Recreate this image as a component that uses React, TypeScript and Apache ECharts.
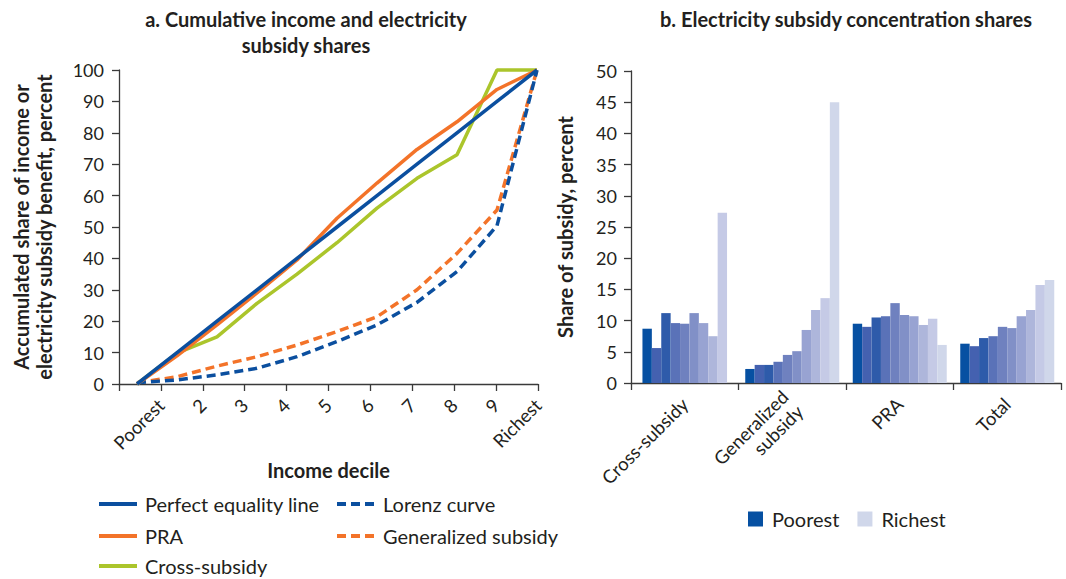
import React, { useEffect, useRef } from 'react';
import * as echarts from 'echarts';

// ---- Panel a: cumulative shares (11 points, 0 .. Richest) ----
const decileTicks = ['', 'Poorest', '2', '3', '4', '5', '6', '7', '8', '9', 'Richest'];
const pointCats = ['0', '1', '2', '3', '4', '5', '6', '7', '8', '9', '10'];
const perfectEquality = [0, 10, 20, 30, 40, 50, 60, 70, 80, 90, 100];
const praCum = [0, 9, 18.8, 29, 39.5, 52.8, 64, 74.7, 83.5, 93.8, 100];
const crossSubsidyCum = [0, 9.8, 15, 25.7, 35, 45, 56, 65.5, 73, 100, 100];
const lorenzCurve = [0.4, 1.3, 2.9, 5, 8.7, 13.5, 18.8, 26, 35.8, 50.4, 100];
const generalizedCum = [0.4, 2.3, 5.7, 8.7, 12.4, 16.7, 21.4, 30, 41.6, 55.4, 100];

// ---- Panel b: concentration shares ----
const barCategories = ['Cross-subsidy', 'Generalized\nsubsidy', 'PRA', 'Total'];
const decileNames = ['Poorest', 'Decile 2', 'Decile 3', 'Decile 4', 'Decile 5', 'Decile 6', 'Decile 7', 'Decile 8', 'Decile 9', 'Richest'];
// values per category: [Cross-subsidy, Generalized subsidy, PRA, Total]; null = no bar
const poorest = [8.7, 2.25, 9.5, 6.3];
const decile2 = [5.6, 2.9, 9.0, 5.9];
const decile3 = [11.2, 2.9, 10.5, 7.2];
const decile4 = [9.6, 3.4, 10.7, 7.5];
const decile5 = [9.5, 4.5, 12.8, 9.0];
const decile6 = [11.2, 5.1, 10.9, 8.8];
const decile7 = [9.6, 8.5, 10.7, 10.7];
const decile8 = [7.5, 11.7, 9.3, 11.7];
const decile9 = [27.3, 13.6, 10.3, 15.7];
const richest = [null, 45, 6.1, 16.5];
const decileValues = [poorest, decile2, decile3, decile4, decile5, decile6, decile7, decile8, decile9, richest];
const decileColors = ['#0650A2', '#4461B0', '#2E5BAA', '#5A72B8', '#6F81BF', '#8190C7', '#98A3D2', '#AEB6DB', '#C5CAE6', '#D0D7EA'];

const BLUE = '#0B4F9F';
const ORANGE = '#F37329';
const GREEN = '#ABC52B';
const TXT = '#231F20';
const AXIS = '#3A3A3A';
const FONT = 'Lato';

export default function App() {
  const ref = useRef<HTMLDivElement>(null);
  useEffect(() => {
    if (!ref.current) return;
    const chart = echarts.init(ref.current, null, { renderer: 'svg' });
    const axisLine = { show: true, lineStyle: { color: AXIS, width: 1.3 } };
    const axisTick = { show: true, inside: false, length: 7, lineStyle: { color: AXIS, width: 1.3 } };
    const lineSeries = (name: string, data: number[], color: string, dashed: boolean) => ({
      type: 'line',
      name,
      data,
      xAxisIndex: 1,
      yAxisIndex: 1,
      symbol: 'none',
      clip: false,
      lineStyle: { color, width: 3.5, type: dashed ? [9, 5] : 'solid' },
      itemStyle: { color },
      z: dashed ? 3 : 4,
    });
    const lineLegend = (name: string, left: number, centerY: number) => ({
      orient: 'horizontal',
      left,
      top: centerY - 11,
      padding: 0,
      itemWidth: 38,
      itemHeight: 12,
      itemStyle: { opacity: 0 },
      lineStyle: { width: 4 },
      textStyle: { fontSize: 20, color: TXT, fontFamily: FONT, padding: [0, 0, 0, 3] },
      data: [name],
      selectedMode: false,
    });

    // Categories where every decile has a bar go on axis 2; categories with
    // missing deciles get their own centred group on the hidden axis 3.
    const fullCats = barCategories.map((_, c) => decileValues.every((v) => v[c] != null));
    const barSeries: any[] = [];
    decileNames.forEach((name, i) => {
      barSeries.push({
        type: 'bar',
        name,
        data: decileValues[i].map((v, c) => (fullCats[c] ? v : '-')),
        xAxisIndex: 2,
        yAxisIndex: 2,
        barGap: '0%',
        barWidth: 9.4,
        itemStyle: { color: decileColors[i] },
      });
    });
    decileNames.forEach((name, i) => {
      if (decileValues[i].every((v, c) => fullCats[c] || v == null)) return;
      barSeries.push({
        type: 'bar',
        name,
        data: decileValues[i].map((v, c) => (fullCats[c] || v == null ? '-' : v)),
        xAxisIndex: 3,
        yAxisIndex: 2,
        barGap: '0%',
        barWidth: 9.4,
        itemStyle: { color: decileColors[i] },
      });
    });

    const option: any = {
      animation: false,
      textStyle: { fontFamily: FONT, color: TXT },
      title: [
        {
          text: 'a. Cumulative income and electricity\nsubsidy shares',
          left: 306,
          top: 6,
          padding: 0,
          textAlign: 'center',
          textStyle: { fontFamily: FONT, fontSize: 20, fontWeight: 'bold', color: TXT, lineHeight: 26 },
        },
        {
          text: 'b. Electricity subsidy concentration shares',
          left: 846,
          top: 6,
          padding: 0,
          textAlign: 'center',
          textStyle: { fontFamily: FONT, fontSize: 20, fontWeight: 'bold', color: TXT, lineHeight: 26 },
        },
      ],
      grid: [
        { left: 119, top: 70, width: 419, height: 314 },
        { left: 137, top: 70, width: 400, height: 314 },
        { left: 631, top: 71, width: 430, height: 312 },
      ],
      xAxis: [
        {
          type: 'category',
          gridIndex: 0,
          data: decileTicks,
          boundaryGap: false,
          axisLine,
          axisTick: { ...axisTick, interval: 0 },
          axisLabel: { interval: 0, rotate: 45, fontSize: 18.5, color: TXT, fontFamily: FONT, margin: 18 },
          name: 'Income decile',
          nameLocation: 'middle',
          nameGap: 73,
          nameTextStyle: { fontSize: 20, fontWeight: 'bold', color: TXT, fontFamily: FONT },
          splitLine: { show: false },
        },
        {
          type: 'category',
          gridIndex: 1,
          data: pointCats,
          boundaryGap: false,
          show: false,
        },
        {
          type: 'category',
          gridIndex: 2,
          data: barCategories,
          axisLine,
          axisTick: { ...axisTick, interval: 0 },
          axisLabel: { interval: 0, rotate: 45, fontSize: 18.5, color: TXT, fontFamily: FONT, margin: 18, lineHeight: 21 },
          splitLine: { show: false },
        },
        {
          type: 'category',
          gridIndex: 2,
          data: barCategories,
          show: false,
        },
      ],
      yAxis: [
        {
          type: 'value',
          gridIndex: 0,
          min: 0,
          max: 100,
          interval: 10,
          axisLine,
          axisTick,
          axisLabel: { fontSize: 18, color: TXT, fontFamily: FONT, margin: 15 },
          splitLine: { show: false },
          name: 'Accumulated share of income or\nelectricity subsidy benefit, percent',
          nameLocation: 'middle',
          nameGap: 64,
          nameTextStyle: { fontSize: 20, fontWeight: 'bold', color: TXT, fontFamily: FONT, lineHeight: 23 },
        },
        {
          type: 'value',
          gridIndex: 1,
          min: 0,
          max: 100,
          show: false,
        },
        {
          type: 'value',
          gridIndex: 2,
          min: 0,
          max: 50,
          interval: 5,
          axisLine,
          axisTick,
          axisLabel: { fontSize: 18, color: TXT, fontFamily: FONT, margin: 14 },
          splitLine: { show: false },
          name: 'Share of subsidy, percent',
          nameLocation: 'middle',
          nameGap: 56,
          nameTextStyle: { fontSize: 20, fontWeight: 'bold', color: TXT, fontFamily: FONT },
        },
      ],
      legend: [
        lineLegend('Perfect equality line', 97, 505),
        lineLegend('PRA', 97, 537),
        lineLegend('Cross-subsidy', 97, 567),
        lineLegend('Lorenz curve', 335, 505),
        lineLegend('Generalized subsidy', 335, 537),
        {
          orient: 'horizontal',
          left: 748,
          top: 509,
          padding: 0,
          itemWidth: 15,
          itemHeight: 15,
          itemGap: 18,
          textStyle: { fontSize: 20, color: TXT, fontFamily: FONT, padding: [0, 0, 0, 4] },
          data: [
            { name: 'Poorest', icon: 'rect' },
            { name: 'Richest', icon: 'rect' },
          ],
          selectedMode: false,
        },
      ],
      series: [
        lineSeries('Generalized subsidy', generalizedCum, ORANGE, true),
        lineSeries('Lorenz curve', lorenzCurve, BLUE, true),
        lineSeries('Cross-subsidy', crossSubsidyCum, GREEN, false),
        lineSeries('PRA', praCum, ORANGE, false),
        lineSeries('Perfect equality line', perfectEquality, BLUE, false),
        ...barSeries,
      ],
    };
    chart.setOption(option);
    return () => chart.dispose();
  }, []);
  return <div ref={ref} style={{ width: 1066, height: 579, position: 'absolute', left: 0, top: 0, background: '#fff' }} />;
}
